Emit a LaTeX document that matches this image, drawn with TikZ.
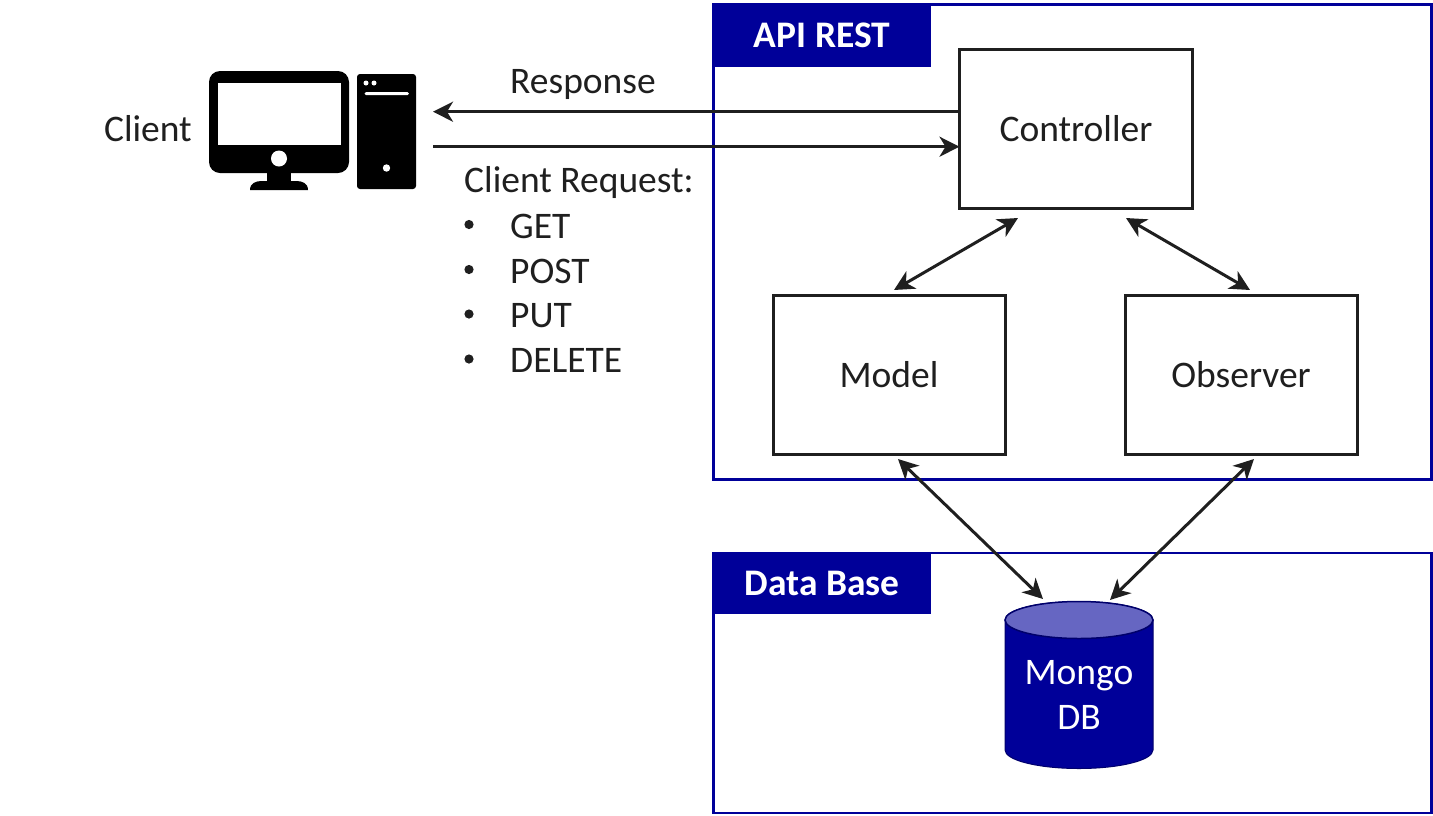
\documentclass[tikz,border=0pt]{standalone}
\usepackage{fontspec}
\setmainfont{Carlito}
\usetikzlibrary{arrows.meta}
\definecolor{navy}{HTML}{000099}
\definecolor{ink}{HTML}{1F1F1F}
\definecolor{dbtop}{HTML}{6666C2}
\tikzset{
  x=1pt,y=-1pt,
  frame/.style={draw=navy,line width=2.6pt,outer sep=0pt},
  tabbox/.style={fill=navy,text=white,font=\fontsize{37.5}{40}\selectfont\bfseries,inner sep=0pt,anchor=center},
  compbox/.style={draw=ink,line width=3pt,fill=white,text=ink,font=\fontsize{37.5}{42}\selectfont,inner sep=0pt,outer sep=0pt},
  lbl/.style={text=ink,font=\fontsize{37.5}{42}\selectfont,inner sep=0pt},
  headtip/.tip={Stealth[length=20pt,width=20pt,inset=6pt]},
  conn/.style={draw=ink,line width=3pt,-headtip},
  biconn/.style={draw=ink,line width=3pt,headtip-headtip},
}
\begin{document}
\begin{tikzpicture}
\useasboundingbox (0,0) rectangle (1433,815);
% frames
\node[frame,minimum width=718pt,minimum height=475pt,inner sep=0pt] (api) at (1072.5,242) {};
\node[frame,minimum width=718pt,minimum height=260pt,inner sep=0pt] (dbf) at (1072.5,683) {};
\node[tabbox,minimum width=218pt,minimum height=62pt] (apitab) at (822,35.5) {API REST};
\node[tabbox,minimum width=218pt,minimum height=62pt] (dbtab) at (822,583) {Data Base};
% components
\node[compbox,minimum width=233pt,minimum height=159pt] (ctrl) at (1076,129) {Controller};
\node[compbox,minimum width=232pt,minimum height=159pt] (model) at (889,375) {Model};
\node[compbox,minimum width=232pt,minimum height=159pt] (obs) at (1241,375) {Observer};
% database cylinder
\path[fill=navy,draw=navy!70!black,line width=1pt] (1005,620) -- (1005,750)
  arc[start angle=180,end angle=0,x radius=74,y radius=18.5] -- (1153,620)
  arc[start angle=0,end angle=-180,x radius=74,y radius=18.5] -- cycle;
\path[fill=dbtop,draw=navy!70!black,line width=1.5pt] (1079,620) ellipse [x radius=74,y radius=18.5];
\node[text=white,font=\fontsize{37.5}{45}\selectfont,align=center,inner sep=0pt] (mongo) at (1079,695) {Mongo\\DB};
\coordinate (mongoL) at (1043,599);
\coordinate (mongoR) at (1110,600);
% client icon
\fill[black,rounded corners=11pt] (209,71) rectangle (349,173);
\fill[black] (267,172) rectangle (291,182);
\fill[black] (250,190) .. controls (250,183) and (256,181) .. (262,181) -- (296,181) .. controls (302,181) and (308,183) .. (308,190) -- cycle;
\fill[white] (218,83) rectangle (341,145);
\fill[white] (279,158.5) circle (8);
\fill[black,rounded corners=3pt] (357,74) rectangle (416,189);
\fill[white] (366,83) circle (2.5);
\fill[white] (374,83) circle (2.5);
\fill[white,rounded corners=1.5pt] (364.5,92) rectangle (409,95);
\fill[white] (386.5,168) circle (3.7);
\coordinate (clientIn) at (433,111.7);
\coordinate (clientOut) at (433,146.7);
% labels
\node[lbl,anchor=base east] (client) at (192,141) {Client};
\node[lbl,anchor=base west] (resp) at (510,93.5) {Response};
\node[lbl,anchor=base west] (req) at (464,192.5) {Client Request:};
\node[lbl,anchor=base west] (g) at (510,238) {GET};
\node[lbl,anchor=base west] (po) at (510,283) {POST};
\node[lbl,anchor=base west] (pu) at (510,327.5) {PUT};
\node[lbl,anchor=base west] (de) at (510,372.5) {DELETE};
\foreach \yy in {224.5,269.5,314,359}{\fill[ink] (469,\yy) circle (4.6);}
% connectors
\draw[conn] (ctrl.west |- clientIn) -- (clientIn);
\draw[conn] (clientOut) -- (ctrl.west |- clientOut);
\coordinate (c1) at (1018,218);
\coordinate (m1) at (894,290);
\coordinate (c2) at (1126,218);
\coordinate (o1) at (1250,290);
\coordinate (m2) at (898,459);
\coordinate (o2) at (1254,459);
\draw[biconn] (c1) -- (m1);
\draw[biconn] (c2) -- (o1);
\draw[biconn] (m2) -- (mongoL);
\draw[biconn] (o2) -- (mongoR);
\end{tikzpicture}
\end{document}
